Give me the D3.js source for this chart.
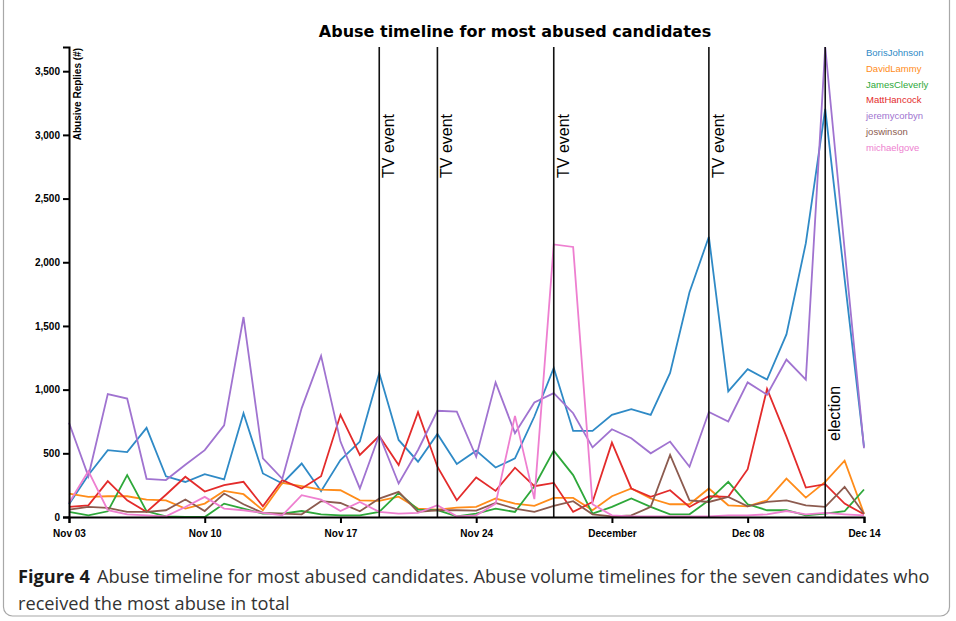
<!DOCTYPE html>
<html>
<head>
<meta charset="utf-8">
<script src="https://cdn.jsdelivr.net/npm/d3@7"></script>
<style>
  body { margin: 0; background: #fff; }
  svg { display: block; }
</style>
</head>
<body>
<svg id="chart" width="956" height="621"></svg>
<script>
// Daily abusive reply counts, 3 Nov – 14 Dec 2019
const startDate = "2019-11-03";
const endDate = "2019-12-14";

const candidates = ["BorisJohnson", "DavidLammy", "JamesCleverly", "MattHancock", "jeremycorbyn", "joswinson", "michaelgove"];

const borisJohnson = [100, 330, 525, 510, 700, 320, 275, 337, 295, 815, 342, 263, 420, 203, 447, 592, 1131, 605, 434, 652, 416, 521, 389, 460, 789, 1170, 676, 676, 802, 847, 802, 1131, 1764, 2200, 986, 1160, 1079, 1433, 2150, 3205, 1870, 550];
const davidLammy = [184, 158, 163, 163, 137, 131, 66, 105, 205, 179, 53, 268, 242, 215, 210, 131, 126, 160, 66, 58, 74, 79, 145, 105, 87, 150, 150, 53, 163, 224, 145, 100, 100, 224, 92, 84, 131, 302, 152, 276, 442, 26];
const jamesCleverly = [40, 13, 45, 329, 45, 5, 0, 0, 105, 66, 26, 26, 47, 21, 13, 13, 40, 189, 58, 53, 5, 26, 66, 40, 242, 521, 329, 26, 79, 145, 79, 21, 21, 131, 276, 100, 53, 53, 13, 26, 45, 216];
const mattHancock = [79, 92, 281, 131, 40, 175, 316, 200, 250, 276, 84, 290, 224, 320, 802, 487, 636, 408, 823, 395, 131, 310, 205, 387, 242, 268, 40, 118, 584, 224, 158, 210, 79, 163, 158, 375, 1005, 631, 231, 258, 105, 21];
const jeremyCorbyn = [740, 320, 965, 930, 300, 290, 410, 525, 720, 1570, 460, 300, 855, 1265, 592, 224, 644, 263, 526, 834, 828, 473, 1057, 658, 899, 973, 815, 547, 689, 618, 500, 592, 395, 825, 750, 1057, 960, 1236, 1079, 3690, 2100, 540];
const joSwinson = [58, 79, 71, 40, 40, 53, 137, 47, 184, 100, 32, 26, 21, 124, 110, 45, 145, 197, 40, 53, 53, 50, 110, 66, 40, 87, 124, 21, 5, 13, 79, 487, 131, 118, 158, 84, 118, 131, 92, 79, 237, 26];
const michaelGove = [110, 360, 53, 21, 13, 5, 79, 158, 66, 53, 32, 13, 171, 137, 47, 118, 40, 26, 32, 92, 5, 13, 105, 794, 140, 2140, 2120, 100, 13, 5, 5, 5, 5, 5, 13, 13, 21, 47, 21, 32, 21, 13];

const seriesValues = [borisJohnson, davidLammy, jamesCleverly, mattHancock, jeremyCorbyn, joSwinson, michaelGove];
const colors = ["#2f8ac6", "#ff8c1a", "#2ea83a", "#e32b2b", "#a073d0", "#8c5b4f", "#ee7fd0"];

const xTickDates = ["2019-11-03", "2019-11-10", "2019-11-17", "2019-11-24", "2019-12-01", "2019-12-08", "2019-12-14"];
const xTickLabels = ["Nov 03", "Nov 10", "Nov 17", "Nov 24", "December", "Dec 08", "Dec 14"];
const yTicks = [0, 500, 1000, 1500, 2000, 2500, 3000, 3500];

const eventDates = ["2019-11-19", "2019-11-22", "2019-11-28", "2019-12-06", "2019-12-12"];
const eventLabels = ["TV event", "TV event", "TV event", "TV event", "election"];

const parse = d3.utcParse("%Y-%m-%d");
const start = parse(startDate), end = parse(endDate);
const days = d3.utcDay.range(start, d3.utcDay.offset(end, 1));

const svg = d3.select("#chart");
const margin = { left: 69, right: 92, top: 47, bottom: 104 };
const W = 956, H = 621;

// Figure frame
svg.append("rect")
  .attr("x", 3.5).attr("y", -10).attr("width", 946).attr("height", 626)
  .attr("rx", 9).attr("fill", "none").attr("stroke", "#a8a8a8").attr("stroke-width", 1.2);

const x = d3.scaleUtc().domain([start, end]).range([margin.left, W - margin.right]);
const yMax = d3.max(seriesValues, s => d3.max(s));
const y = d3.scaleLinear().domain([0, yMax]).range([H - margin.bottom, margin.top]);

// Title
svg.append("text")
  .attr("x", 515).attr("y", 37)
  .attr("text-anchor", "middle")
  .attr("font-family", "DejaVu Sans")
  .attr("font-weight", "bold")
  .attr("font-size", 16)
  .attr("fill", "#000")
  .text("Abuse timeline for most abused candidates");

// Series lines
const line = d3.line()
  .x((d, i) => x(days[i]))
  .y(d => y(d));

svg.append("g").selectAll("path")
  .data(seriesValues)
  .join("path")
  .attr("d", d => line(d))
  .attr("fill", "none")
  .attr("stroke", (d, i) => colors[i])
  .attr("stroke-width", 1.8)
  .attr("stroke-linejoin", "miter");

// Event markers
const ev = svg.append("g");
eventDates.forEach((d, i) => {
  const ex = x(parse(d));
  ev.append("line")
    .attr("x1", ex).attr("x2", ex)
    .attr("y1", margin.top).attr("y2", H - margin.bottom)
    .attr("stroke", "#111").attr("stroke-width", 1.6);
  const ty = eventLabels[i] === "election" ? 441 : 178;
  ev.append("text")
    .attr("transform", `translate(${ex + 15},${ty}) rotate(-90)`)
    .attr("font-family", "Liberation Sans, Arial, sans-serif")
    .attr("font-size", 16)
    .attr("fill", "#000")
    .text(eventLabels[i]);
});

// Axes
const xAxis = d3.axisBottom(x)
  .tickValues(xTickDates.map(parse))
  .tickFormat((d, i) => xTickLabels[i])
  .tickSizeOuter(0)
  .tickSize(6);
const gx = svg.append("g")
  .attr("transform", `translate(0,${H - margin.bottom})`)
  .call(xAxis);

const yAxis = d3.axisLeft(y)
  .tickValues(yTicks)
  .tickFormat(d3.format(","))
  .tickSizeOuter(0)
  .tickSize(6);
const gy = svg.append("g")
  .attr("transform", `translate(${margin.left},0)`)
  .call(yAxis);

[gx, gy].forEach(g => {
  g.selectAll(".domain").attr("stroke", "#000").attr("stroke-width", 2);
  g.selectAll(".tick line").attr("stroke", "#000").attr("stroke-width", 2);
  g.selectAll(".tick text")
    .attr("font-family", "Liberation Sans, Arial, sans-serif")
    .attr("font-weight", "bold")
    .attr("font-size", 10)
    .attr("fill", "#000");
});
gx.selectAll(".tick text").attr("dy", "1.05em");

// Y axis title
svg.append("text")
  .attr("transform", `translate(${margin.left + 12},${margin.top + 1}) rotate(-90)`)
  .attr("text-anchor", "end")
  .attr("font-family", "Liberation Sans, Arial, sans-serif")
  .attr("font-weight", "bold")
  .attr("font-size", 10)
  .attr("fill", "#000")
  .text("Abusive Replies (#)");

// Legend
svg.append("g").selectAll("text")
  .data(candidates)
  .join("text")
  .attr("x", 866)
  .attr("y", (d, i) => 56 + i * 15.8)
  .attr("font-family", "Liberation Sans, Arial, sans-serif")
  .attr("font-size", 9.5)
  .attr("fill", (d, i) => colors[i])
  .text(d => d);

// Caption
const cap = svg.append("g").attr("font-family", "Open Sans, sans-serif").attr("font-size", 18.2).attr("fill", "#333");
const l1 = cap.append("text").attr("x", 18).attr("y", 583);
l1.append("tspan").attr("font-weight", "bold").attr("fill", "#1a1a1a").text("Figure 4");
l1.append("tspan").attr("dx", 7).text("Abuse timeline for most abused candidates. Abuse volume timelines for the seven candidates who");
cap.append("text").attr("x", 18).attr("y", 610).text("received the most abuse in total");
</script>
</body>
</html>
